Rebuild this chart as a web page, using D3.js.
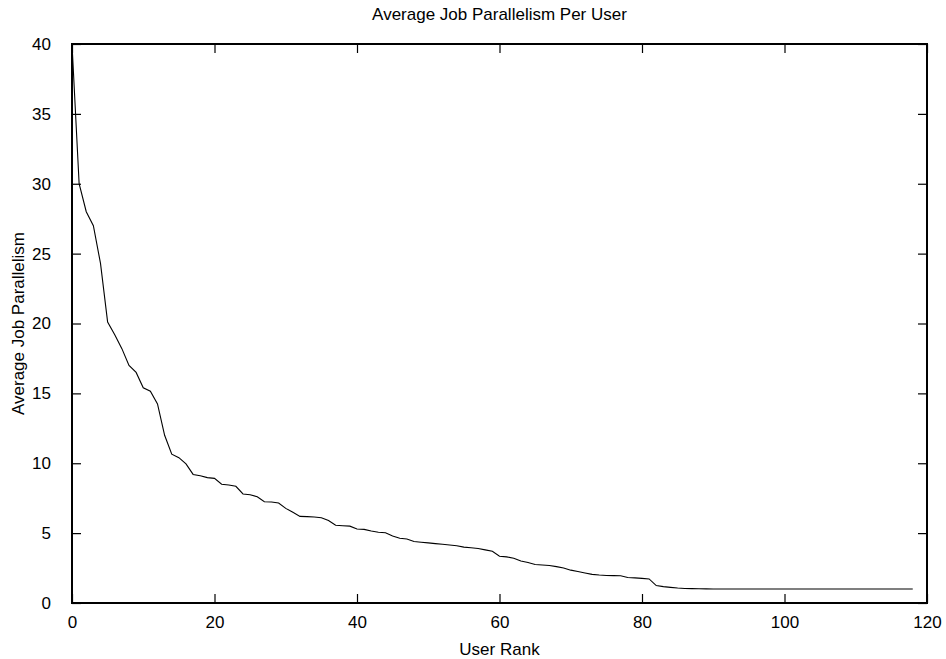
<!DOCTYPE html>
<html>
<head>
<meta charset="utf-8">
<script src="https://cdn.jsdelivr.net/npm/d3@7"></script>
<style>
  body { margin: 0; background: #fff; }
  text { font-family: "Liberation Sans", Arial, sans-serif; fill: #000; }
</style>
</head>
<body>
<div id="chart"></div>
<script>
// --- données ---
const rangs = d3.range(0, 119); // User Rank 0..118
const parallelisme = [
  40, 30, 28, 27, 24.3, 20.1, 19.2, 18.2, 17.0, 16.5,
  15.4, 15.15, 14.25, 12.0, 10.65, 10.4, 9.95, 9.2, 9.1, 8.97,
  8.92, 8.5, 8.44, 8.35, 7.8, 7.75, 7.6, 7.25, 7.23, 7.16,
  6.77, 6.49, 6.2, 6.18, 6.15, 6.1, 5.9, 5.56, 5.53, 5.5,
  5.3, 5.27, 5.15, 5.06, 5.03, 4.8, 4.63, 4.58, 4.4, 4.35,
  4.3, 4.25, 4.2, 4.15, 4.1, 4.0, 3.95, 3.9, 3.8, 3.7,
  3.35, 3.3, 3.2, 3.0, 2.9, 2.75, 2.72, 2.68, 2.6, 2.5,
  2.35, 2.25, 2.15, 2.05, 2.0, 1.97, 1.96, 1.95, 1.82, 1.8,
  1.76, 1.72, 1.25, 1.17, 1.12, 1.07, 1.04, 1.03, 1.02, 1.01,
  1, 1, 1, 1, 1, 1, 1, 1, 1, 1,
  1, 1, 1, 1, 1, 1, 1, 1, 1, 1,
  1, 1, 1, 1, 1, 1, 1, 1, 1
];
const ticksX = [0, 20, 40, 60, 80, 100, 120];
const ticksY = [0, 5, 10, 15, 20, 25, 30, 35, 40];

// --- configuration ---
const largeur = 946;
const hauteur = 659;
const marge = { haut: 44, droite: 19, bas: 56, gauche: 72 };
const l = largeur - marge.gauche - marge.droite;
const h = hauteur - marge.haut - marge.bas;

const svg = d3.select("#chart").append("svg")
  .attr("width", largeur)
  .attr("height", hauteur);

const x = d3.scaleLinear().domain([0, 120]).range([marge.gauche, marge.gauche + l]);
const y = d3.scaleLinear().domain([0, 40]).range([marge.haut + h, marge.haut]);

const tick = 9;

// axes (ticks vers l'intérieur, en miroir comme gnuplot)
svg.append("g")
  .attr("transform", `translate(0,${marge.haut + h})`)
  .call(d3.axisBottom(x).tickValues(ticksX).tickSizeInner(-tick).tickSizeOuter(0).tickPadding(13));
svg.append("g")
  .attr("transform", `translate(0,${marge.haut})`)
  .call(d3.axisTop(x).tickValues(ticksX).tickSizeInner(-tick).tickSizeOuter(0).tickFormat(""));
svg.append("g")
  .attr("transform", `translate(${marge.gauche},0)`)
  .call(d3.axisLeft(y).tickValues(ticksY).tickSizeInner(-tick).tickSizeOuter(0).tickPadding(21));
svg.append("g")
  .attr("transform", `translate(${marge.gauche + l},0)`)
  .call(d3.axisRight(y).tickValues(ticksY).tickSizeInner(-tick).tickSizeOuter(0).tickFormat(""));

svg.selectAll(".domain").remove();
svg.selectAll(".tick line").attr("stroke", "#000").attr("stroke-width", 1.2);
svg.selectAll(".tick text")
  .attr("font-size", 17)
  .attr("font-family", "Liberation Sans, Arial, sans-serif");

// cadre
svg.append("rect")
  .attr("x", marge.gauche)
  .attr("y", marge.haut)
  .attr("width", l)
  .attr("height", h)
  .attr("fill", "none")
  .attr("stroke", "#000")
  .attr("stroke-width", 2);

// courbe
const ligne = d3.line()
  .x((d, i) => x(rangs[i]))
  .y(d => y(d));

svg.append("path")
  .datum(parallelisme)
  .attr("d", ligne)
  .attr("fill", "none")
  .attr("stroke", "#000")
  .attr("stroke-width", 1.1);

// textes
svg.append("text")
  .attr("x", marge.gauche + l / 2)
  .attr("y", 20)
  .attr("text-anchor", "middle")
  .attr("font-size", 17)
  .text("Average Job Parallelism Per User");

svg.append("text")
  .attr("x", marge.gauche + l / 2)
  .attr("y", 655)
  .attr("text-anchor", "middle")
  .attr("font-size", 17)
  .text("User Rank");

svg.append("text")
  .attr("transform", `translate(24,${marge.haut + h / 2}) rotate(-90)`)
  .attr("text-anchor", "middle")
  .attr("font-size", 17)
  .text("Average Job Parallelism");
</script>
</body>
</html>
